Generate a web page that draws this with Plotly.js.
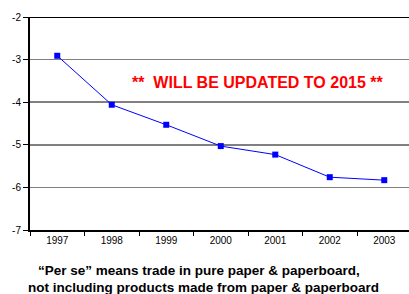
<!DOCTYPE html>
<html><head><meta charset="utf-8">
<script src="https://cdn.plot.ly/plotly-3.0.1.min.js"></script>
<style>html,body{margin:0;padding:0;background:#fff;}#c{width:409px;height:294px;}</style>
</head><body><div id="c"></div>
<script>
const years = ['1997','1998','1999','2000','2001','2002','2003'];
const values = [-2.91, -4.06, -4.53, -5.03, -5.23, -5.76, -5.83];
const yTickVals = [-7, -6, -5, -4, -3, -2];
const yTickText = ['-7', '-6', '-5', '-4', '-3', '-2'];
const banner = '**  WILL BE UPDATED TO 2015 **';
const noteLines = ['\u201cPer se\u201d means trade in pure paper &amp; paperboard,', 'not including products made from paper &amp; paperboard'];

const trace = {
  x: years, y: values, type: 'scatter', mode: 'lines+markers',
  line: {color: '#0000ff', width: 1},
  marker: {symbol: 'square', size: 6, color: '#0000ff'},
  hoverinfo: 'skip'
};
const layout = {
  width: 409, height: 294,
  margin: {l: 30, r: 0, t: 17, b: 64},
  paper_bgcolor: '#fff', plot_bgcolor: '#fff',
  showlegend: false,
  font: {family: 'Arial, Liberation Sans, sans-serif', color: '#000', size: 10},
  xaxis: {
    type: 'category', range: [-0.5, 6.454], tickson: 'boundaries',
    ticks: 'outside', ticklen: 4, tickcolor: '#000', tickwidth: 1,
    showline: true, linecolor: '#000', linewidth: 2, showgrid: false,
    tickfont: {size: 10, color: '#000'}, fixedrange: true
  },
  yaxis: {
    range: [-7, -2], tickvals: yTickVals, ticktext: yTickText,
    ticks: 'outside', ticklen: 5, tickcolor: '#000', tickwidth: 1,
    showline: true, linecolor: '#000', linewidth: 2,
    showgrid: true, gridcolor: '#808080', gridwidth: 1.5, zeroline: false,
    tickfont: {size: 10, color: '#000'}, fixedrange: true
  },
  shapes: [{type: 'line', xref: 'paper', yref: 'y', x0: 0, x1: 1, y0: -2, y1: -2,
            line: {color: '#000', width: 2}}],
  annotations: [
    {text: '<b>' + banner + '</b>', xref: 'paper', yref: 'paper', x: 0.602, xanchor: 'center',
     y: 0.692, yanchor: 'middle', showarrow: false,
     font: {size: 16, color: '#ff0000'}},
    {text: '<b>' + noteLines[0] + '</b>', xref: 'paper', yref: 'paper', x: 0.446, xanchor: 'center',
     y: -0.188, yanchor: 'middle', showarrow: false, font: {size: 13.5, color: '#000'}},
    {text: '<b>' + noteLines[1] + '</b>', xref: 'paper', yref: 'paper', x: 0.459, xanchor: 'center',
     y: -0.272, yanchor: 'middle', showarrow: false, font: {size: 13.5, color: '#000'}}
  ]
};
Plotly.newPlot('c', [trace], layout, {displayModeBar: false, staticPlot: true});
</script></body></html>
